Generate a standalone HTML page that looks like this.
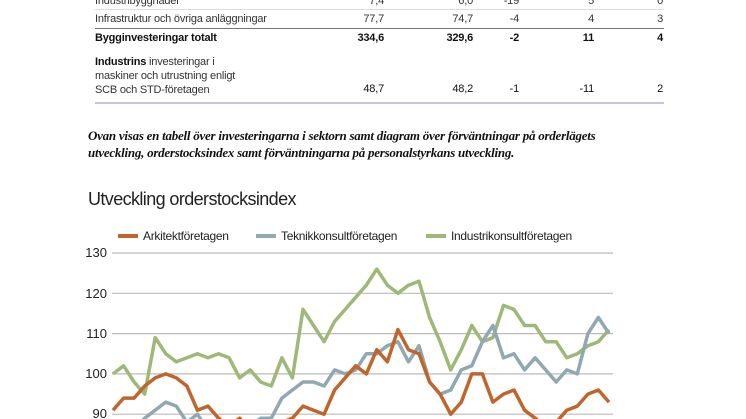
<!DOCTYPE html>
<html><head><meta charset="utf-8"><style>
body{margin:0;width:746px;height:419px;overflow:hidden;background:#fff;font-family:"Liberation Sans",sans-serif;position:relative;color:#222}
.t{position:absolute;font-size:11px;white-space:nowrap;color:#333;letter-spacing:-0.2px}
.r{text-align:right}
.b{font-weight:bold;color:#111}
.ln{position:absolute;left:95px;width:569px;height:1px}
</style></head><body>
<div class="t" style="left:95px;top:-5px">Industribyggnader</div>
<div class="t r" style="right:362px;top:-5px">7,4</div>
<div class="t r" style="right:273px;top:-5px">6,0</div>
<div class="t r" style="right:227px;top:-5px">-19</div>
<div class="t r" style="right:152px;top:-5px">5</div>
<div class="t r" style="right:83px;top:-5px">0</div>
<div class="ln" style="top:9px;background:#ddd"></div>
<div class="t" style="left:95px;top:13px">Infrastruktur och övriga anläggningar</div>
<div class="t r" style="right:362px;top:13px">77,7</div>
<div class="t r" style="right:273px;top:13px">74,7</div>
<div class="t r" style="right:227px;top:13px">-4</div>
<div class="t r" style="right:152px;top:13px">4</div>
<div class="t r" style="right:83px;top:13px">3</div>
<div class="ln" style="top:28px;background:#777"></div>
<div class="t b" style="left:95px;top:32px">Bygginvesteringar totalt</div>
<div class="t r b" style="right:362px;top:32px">334,6</div>
<div class="t r b" style="right:273px;top:32px">329,6</div>
<div class="t r b" style="right:227px;top:32px">-2</div>
<div class="t r b" style="right:152px;top:32px">11</div>
<div class="t r b" style="right:83px;top:32px">4</div>
<div class="t" style="left:95px;top:55px;line-height:14px"><b style="color:#111">Industrins</b> investeringar i<br>maskiner och utrustning enligt<br>SCB och STD-företagen</div>
<div class="t r" style="right:362px;top:83px;color:#111">48,7</div>
<div class="t r" style="right:273px;top:83px;color:#111">48,2</div>
<div class="t r" style="right:227px;top:83px;color:#111">-1</div>
<div class="t r" style="right:152px;top:83px;color:#111">-11</div>
<div class="t r" style="right:83px;top:83px;color:#111">2</div>
<div class="ln" style="top:102px;height:2px;background:#c9c3dc"></div>
<div style="position:absolute;left:88px;top:127px;font-family:'Liberation Serif',serif;font-style:italic;font-weight:bold;font-size:13px;line-height:17px;color:#111;letter-spacing:-0.25px">Ovan visas en tabell över investeringarna i sektorn samt diagram över förväntningar på orderlägets<br>utveckling, orderstocksindex samt förväntningarna på personalstyrkans utveckling.</div>
<div style="position:absolute;left:88px;top:189px;font-size:18px;color:#222;letter-spacing:-0.6px">Utveckling orderstocksindex</div>
<svg id="s" width="746" height="419" style="position:absolute;left:0;top:0">
<g font-family="Liberation Sans" font-size="12" fill="#222" letter-spacing="-0.3">
<rect x="118" y="234" width="20" height="4" fill="#c0652c"/><text x="143" y="240">Arkitektföretagen</text>
<rect x="256" y="234" width="20" height="4" fill="#8fa8b2"/><text x="281" y="240">Teknikkonsultföretagen</text>
<rect x="426" y="234" width="20" height="4" fill="#9fb878"/><text x="451" y="240">Industrikonsultföretagen</text>
</g>
<g font-family="Liberation Sans" font-size="13" fill="#222">
<text x="107" y="257" text-anchor="end">130</text>
<text x="107" y="298" text-anchor="end">120</text>
<text x="107" y="338" text-anchor="end">110</text>
<text x="107" y="378" text-anchor="end">100</text>
<text x="107" y="418" text-anchor="end">90</text>
</g>
<g stroke="#bbb" stroke-width="1.2">
<line x1="112" x2="613" y1="253" y2="253"/><line x1="112" x2="613" y1="293.3" y2="293.3"/><line x1="112" x2="613" y1="333.6" y2="333.6"/><line x1="112" x2="613" y1="373.9" y2="373.9"/><line x1="112" x2="613" y1="414.2" y2="414.2"/>
</g>
<polyline id="g" fill="none" stroke="#9fb878" stroke-width="3.5" stroke-linejoin="round"/>
<polyline id="bl" fill="none" stroke="#8fa8b2" stroke-width="3.5" stroke-linejoin="round"/>
<polyline id="o" fill="none" stroke="#c0652c" stroke-width="3.5" stroke-linejoin="round"/>
</svg>
<script>
var G=[100,102,98,95,109,105,103,104,105,104,105,104,99,101,98,97,104,99,116,112,108,113,116,119,122,126,122,120,122,123,114,108,101,106,112,108,109,117,116,112,112,108,108,104,105,107,108,111];
var B=[84,85,86,89,91,93,92,88,90,86,85,84,85,87,89,89,94,96,98,98,97,101,100,101,105,105,107,108,103,107,98,95,96,101,102,108,112,104,105,101,104,101,98,101,100,110,114,110];
var O=[91,94,94,97,99,100,99,97,91,92,89,87,89,86,85,86,88,89,92,91,90,96,99,102,100,106,103,111,106,105,98,95,90,93,100,100,93,95,96,91,89,87,88,91,92,95,96,93];
function p(a){return a.map(function(v,i){return (113+i*496/47).toFixed(1)+","+(253+(130-v)*4.03).toFixed(1)}).join(" ")}
document.getElementById("g").setAttribute("points",p(G));
document.getElementById("bl").setAttribute("points",p(B));
document.getElementById("o").setAttribute("points",p(O));
</script>
</body></html>
